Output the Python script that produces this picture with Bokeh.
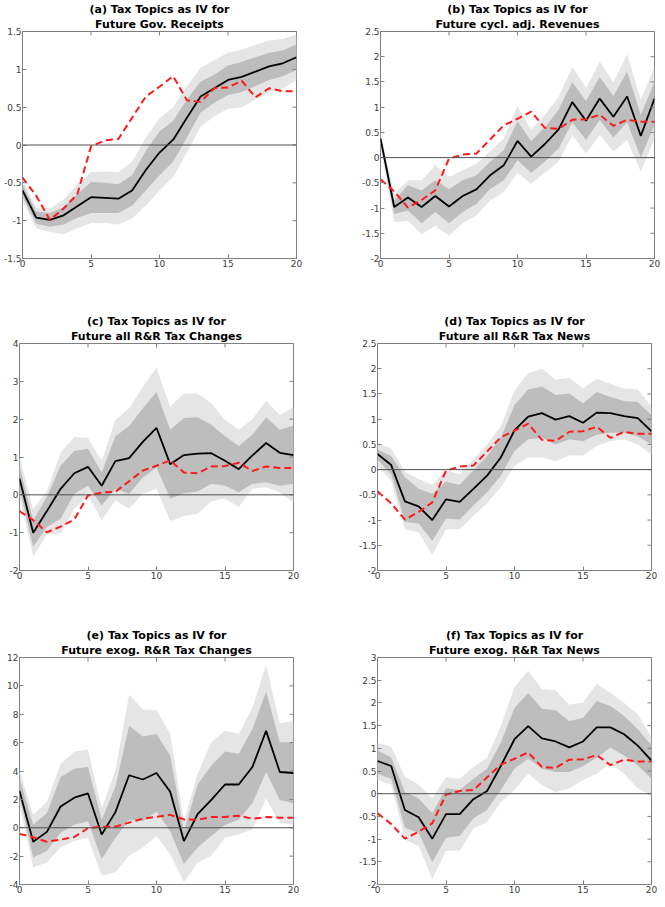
import math
from bokeh.plotting import figure
from bokeh.layouts import column, row
from bokeh.models import FixedTicker, Range1d, Title, Span
from bokeh.embed import file_html
from bokeh.resources import INLINE

horizon = list(range(21))
x_ticks = [0, 5, 10, 15, 20]
x_labels = ["0", "5", "10", "15", "20"]

# benchmark (red dashed) response, same in every panel
benchmark = [-0.43, -0.67, -0.99, -0.84, -0.65, -0.02, 0.06, 0.08, 0.36, 0.64, 0.77,
             0.91, 0.59, 0.57, 0.75, 0.76, 0.85, 0.63, 0.75, 0.71, 0.71]

# (a) Future Gov. Receipts
a_irf = [-0.60, -0.96, -0.99, -0.93, -0.81, -0.69, -0.70, -0.71, -0.60, -0.33, -0.10,
         0.07, 0.36, 0.64, 0.75, 0.86, 0.90, 0.97, 1.04, 1.08, 1.16]
a_in_lo = [-0.68, -1.04, -1.08, -1.05, -0.96, -0.90, -0.90, -0.90, -0.80, -0.60, -0.40,
           -0.22, 0.10, 0.43, 0.56, 0.66, 0.70, 0.78, 0.86, 0.91, 0.99]
a_in_hi = [-0.52, -0.88, -0.90, -0.82, -0.65, -0.49, -0.50, -0.52, -0.40, -0.08, 0.18,
           0.32, 0.60, 0.84, 0.93, 1.05, 1.10, 1.16, 1.22, 1.25, 1.33]
a_out_lo = [-0.74, -1.10, -1.15, -1.18, -1.10, -1.03, -1.03, -1.05, -0.97, -0.80, -0.60,
            -0.42, -0.10, 0.24, 0.38, 0.48, 0.50, 0.60, 0.69, 0.75, 0.86]
a_out_hi = [-0.46, -0.83, -0.84, -0.72, -0.52, -0.36, -0.35, -0.36, -0.22, 0.10, 0.35,
            0.50, 0.78, 1.02, 1.12, 1.22, 1.26, 1.32, 1.38, 1.40, 1.46]
a_yticks = [-1.5, -1, -0.5, 0, 0.5, 1, 1.5]
a_ylabels = ["-1.5", "-1", "-0.5", "0", "0.5", "1", "1.5"]

# (b) Future cycl. adj. Revenues
b_irf = [0.38, -0.98, -0.79, -0.98, -0.76, -0.97, -0.76, -0.63, -0.35, -0.15, 0.33,
         0.02, 0.27, 0.56, 1.10, 0.73, 1.17, 0.81, 1.21, 0.43, 1.17]
b_in_lo = [0.28, -1.12, -1.05, -1.30, -1.08, -1.30, -1.08, -0.92, -0.62, -0.45, -0.05,
           -0.30, -0.08, 0.18, 0.70, 0.35, 0.75, 0.40, 0.70, 0.00, 0.65]
b_in_hi = [0.45, -0.85, -0.55, -0.65, -0.45, -0.62, -0.45, -0.35, -0.08, 0.15, 0.72,
           0.33, 0.60, 0.95, 1.50, 1.12, 1.60, 1.22, 1.70, 0.85, 1.50]
b_out_lo = [0.20, -1.28, -1.25, -1.52, -1.35, -1.55, -1.30, -1.15, -0.85, -0.68, -0.30,
            -0.52, -0.30, -0.08, 0.45, 0.08, 0.45, 0.12, 0.35, -0.28, 0.38]
b_out_hi = [0.50, -0.72, -0.45, -0.45, -0.15, -0.38, -0.25, -0.12, 0.12, 0.38, 1.02,
            0.55, 0.85, 1.20, 1.80, 1.38, 1.90, 1.50, 2.05, 1.15, 1.80]
b_yticks = [-2, -1.5, -1, -0.5, 0, 0.5, 1, 1.5, 2, 2.5]
b_ylabels = ["-2", "-1.5", "-1", "-0.5", "0", "0.5", "1", "1.5", "2", "2.5"]

# (c) Future all R&R Tax Changes
c_irf = [0.43, -1.00, -0.43, 0.16, 0.57, 0.74, 0.24, 0.89, 0.97, 1.40, 1.77,
         0.81, 1.05, 1.09, 1.10, 0.90, 0.68, 1.04, 1.37, 1.11, 1.05]
c_in_lo = [0.15, -1.37, -0.85, -0.63, 0.03, 0.24, -0.28, 0.16, 0.03, 0.46, 0.72,
           -0.10, 0.04, 0.09, 0.29, 0.24, 0.07, 0.29, 0.33, 0.24, 0.29]
c_in_hi = [0.75, -0.67, -0.05, 0.77, 1.16, 1.22, 0.59, 1.55, 1.81, 2.29, 2.72,
           1.72, 2.03, 2.05, 1.85, 1.55, 1.29, 1.59, 2.05, 1.72, 1.83]
c_out_lo = [-0.05, -1.63, -1.05, -1.02, -0.37, -0.02, -0.67, -0.15, -0.37, 0.03, 0.16,
            -0.70, -0.56, -0.50, -0.17, -0.10, -0.32, 0.16, 0.20, 0.07, -0.20]
c_out_hi = [1.00, -0.37, 0.10, 1.11, 1.53, 1.50, 0.90, 1.98, 2.29, 2.85, 3.36,
            2.33, 2.68, 2.68, 2.42, 1.98, 1.72, 2.00, 2.49, 2.11, 2.33]
c_yticks = [-2, -1, 0, 1, 2, 3, 4]
c_ylabels = ["-2", "-1", "0", "1", "2", "3", "4"]

# (d) Future all R&R Tax News
d_irf = [0.31, 0.09, -0.63, -0.73, -1.00, -0.59, -0.64, -0.38, -0.12, 0.24, 0.78,
         1.05, 1.12, 0.99, 1.06, 0.93, 1.13, 1.12, 1.06, 1.02, 0.76]
d_in_lo = [0.20, -0.09, -1.04, -1.07, -1.41, -0.97, -0.99, -0.71, -0.45, -0.12, 0.37,
           0.60, 0.63, 0.50, 0.60, 0.56, 0.69, 0.73, 0.73, 0.66, 0.50]
d_in_hi = [0.40, 0.27, -0.15, -0.38, -0.48, -0.24, -0.30, -0.02, 0.27, 0.63, 1.28,
           1.59, 1.65, 1.48, 1.51, 1.31, 1.54, 1.44, 1.36, 1.34, 1.08]
d_out_lo = [0.07, -0.22, -1.18, -1.24, -1.69, -1.18, -1.18, -0.92, -0.66, -0.35, 0.07,
            0.24, 0.24, 0.17, 0.28, 0.28, 0.47, 0.56, 0.60, 0.50, 0.30]
d_out_hi = [0.53, 0.42, -0.04, -0.19, -0.30, -0.02, -0.09, 0.20, 0.50, 0.86, 1.57,
            1.91, 2.00, 1.78, 1.82, 1.61, 1.80, 1.70, 1.61, 1.59, 1.25]
d_yticks = b_yticks
d_ylabels = b_ylabels

# (e) Future exog. R&R Tax Changes
e_irf = [2.59, -0.99, -0.29, 1.50, 2.12, 2.42, -0.48, 1.10, 3.70, 3.40, 3.86,
         2.54, -0.94, 0.96, 1.96, 3.05, 3.05, 4.28, 6.83, 3.93, 3.86]
e_in_lo = [2.19, -2.10, -1.63, -0.36, 0.22, 0.46, -2.21, -0.70, 0.57, 0.46, 1.15,
           -0.24, -2.56, -1.40, -0.59, 0.22, 0.57, 1.73, 3.93, 1.96, 1.73]
e_in_hi = [3.47, 0.22, 1.03, 3.58, 4.16, 4.28, 0.57, 2.89, 7.18, 6.43, 6.60,
           5.09, -0.24, 3.05, 4.39, 5.37, 5.21, 6.94, 9.61, 6.02, 6.02]
e_out_lo = [1.61, -2.79, -2.45, -1.40, -0.94, -0.70, -3.37, -3.14, -1.98, -1.40, -0.59,
            -1.87, -3.84, -2.45, -1.98, -0.70, -0.48, -0.13, 2.08, 0.34, 0.22]
e_out_hi = [4.05, 0.92, 1.84, 4.51, 5.37, 5.51, 1.38, 4.05, 9.38, 8.34, 8.29,
            6.60, 0.46, 3.81, 6.02, 6.83, 6.60, 8.45, 11.47, 7.36, 7.52]
e_yticks = [-4, -2, 0, 2, 4, 6, 8, 10, 12]
e_ylabels = ["-4", "-2", "0", "2", "4", "6", "8", "10", "12"]

# (f) Future exog. R&R Tax News
f_irf = [0.72, 0.61, -0.36, -0.52, -0.99, -0.45, -0.45, -0.12, 0.06, 0.61, 1.20,
         1.49, 1.22, 1.15, 1.02, 1.15, 1.46, 1.46, 1.31, 1.06, 0.73]
f_in_lo = [0.44, 0.33, -0.75, -0.86, -1.51, -0.97, -0.93, -0.54, -0.36, 0.08, 0.55,
           0.77, 0.55, 0.48, 0.48, 0.61, 0.79, 1.02, 0.84, 0.62, 0.33]
f_in_hi = [0.95, 0.80, 0.04, -0.10, -0.43, 0.12, 0.08, 0.33, 0.55, 1.13, 1.89,
           2.22, 1.87, 1.84, 1.60, 1.67, 2.04, 1.93, 1.71, 1.42, 1.06]
f_out_lo = [0.30, 0.20, -1.01, -1.15, -1.88, -1.26, -1.25, -0.77, -0.62, -0.19, 0.08,
            0.44, 0.19, 0.03, 0.12, 0.30, 0.44, 0.66, 0.44, 0.12, -0.03]
f_out_hi = [1.12, 1.04, 0.37, 0.20, -0.10, 0.37, 0.33, 0.59, 0.80, 1.49, 2.35,
            2.71, 2.30, 2.28, 1.96, 2.01, 2.42, 2.22, 2.00, 1.75, 1.24]
f_yticks = [-2, -1.5, -1, -0.5, 0, 0.5, 1, 1.5, 2, 2.5, 3]
f_ylabels = ["-2", "-1.5", "-1", "-0.5", "0", "0.5", "1", "1.5", "2", "2.5", "3"]

FONT = "DejaVu Sans"
LABEL_COLOR = "#404040"
FRAME_COLOR = "#808080"
TITLE_SIZE = "11px"
FRAME_W = 274

COLS = [dict(left=19, right=62), dict(left=19, right=7)]
ROWS = [dict(top=26, fh=227, bottom=54), dict(top=30, fh=227, bottom=56),
        dict(top=30, fh=227, bottom=13)]


def style_axis(ax):
    ax.axis_line_color = None
    ax.major_tick_line_color = FRAME_COLOR
    ax.major_tick_in = 4
    ax.major_tick_out = 0
    ax.minor_tick_line_color = None
    ax.major_label_text_font = FONT
    ax.major_label_text_font_size = "9px"
    ax.major_label_text_color = LABEL_COLOR
    ax.major_label_standoff = 1


def panel(line1, line2, irf, in_lo, in_hi, out_lo, out_hi, yticks, ylabels, c, r):
    cb, rb = COLS[c], ROWS[r]
    p = figure(frame_width=FRAME_W, frame_height=rb["fh"], output_backend="svg",
               toolbar_location=None, x_range=Range1d(0, 20),
               y_range=Range1d(yticks[0], yticks[-1]),
               min_border_left=cb["left"], min_border_right=cb["right"],
               min_border_top=rb["top"], min_border_bottom=rb["bottom"])
    p.background_fill_color = "white"
    p.border_fill_color = "white"
    p.outline_line_color = FRAME_COLOR
    p.outline_line_width = 1
    p.xgrid.visible = False
    p.ygrid.visible = False

    p.xaxis.ticker = FixedTicker(ticks=x_ticks)
    p.yaxis.ticker = FixedTicker(ticks=yticks)
    p.xaxis.major_label_overrides = {t: s for t, s in zip(x_ticks, x_labels)}
    p.yaxis.major_label_overrides = {t: s for t, s in zip(yticks, ylabels)}
    style_axis(p.xaxis[0])
    style_axis(p.yaxis[0])

    p.add_layout(Title(text=line2, align="center", text_font=FONT,
                       text_font_size=TITLE_SIZE, text_font_style="bold",
                       text_color="black", standoff=1, offset=0), "above")
    p.add_layout(Title(text=line1, align="center", text_font=FONT,
                       text_font_size=TITLE_SIZE, text_font_style="bold",
                       text_color="black", standoff=0, offset=0), "above")

    p.varea(x=horizon, y1=out_lo, y2=out_hi, fill_color="#e5e5e5", fill_alpha=1)
    p.varea(x=horizon, y1=in_lo, y2=in_hi, fill_color="#bdbdbd", fill_alpha=1)
    p.add_layout(Span(location=0, dimension="width", line_color="#505050",
                      line_width=1))
    p.line(horizon, irf, line_color="black", line_width=1.8)
    p.line(horizon, benchmark, line_color="#ff1a1a", line_width=2,
           line_dash="7 4")

    # inward tick marks on the top and right edges of the box (clipped to frame)
    p.scatter(x=x_ticks, y=[yticks[-1]] * len(x_ticks), marker="dash", size=8,
              angle=math.pi / 2, line_color=FRAME_COLOR, line_width=1)
    p.scatter(x=[20] * len(yticks), y=yticks, marker="dash", size=8,
              line_color=FRAME_COLOR, line_width=1)
    return p


pa = panel("(a) Tax Topics as IV for", "Future Gov. Receipts",
           a_irf, a_in_lo, a_in_hi, a_out_lo, a_out_hi, a_yticks, a_ylabels, 0, 0)
pb = panel("(b) Tax Topics as IV for", "Future cycl. adj. Revenues",
           b_irf, b_in_lo, b_in_hi, b_out_lo, b_out_hi, b_yticks, b_ylabels, 1, 0)
pc = panel("(c) Tax Topics as IV for", "Future all R&R Tax Changes",
           c_irf, c_in_lo, c_in_hi, c_out_lo, c_out_hi, c_yticks, c_ylabels, 0, 1)
pd_ = panel("(d) Tax Topics as IV for", "Future all R&R Tax News",
            d_irf, d_in_lo, d_in_hi, d_out_lo, d_out_hi, d_yticks, d_ylabels, 1, 1)
pe = panel("(e) Tax Topics as IV for", "Future exog. R&R Tax Changes",
           e_irf, e_in_lo, e_in_hi, e_out_lo, e_out_hi, e_yticks, e_ylabels, 0, 2)
pf = panel("(f) Tax Topics as IV for", "Future exog. R&R Tax News",
           f_irf, f_in_lo, f_in_hi, f_out_lo, f_out_hi, f_yticks, f_ylabels, 1, 2)

layout = column(row(pa, pb), row(pc, pd_), row(pe, pf))

open("out.html", "w").write(file_html(layout, INLINE))
